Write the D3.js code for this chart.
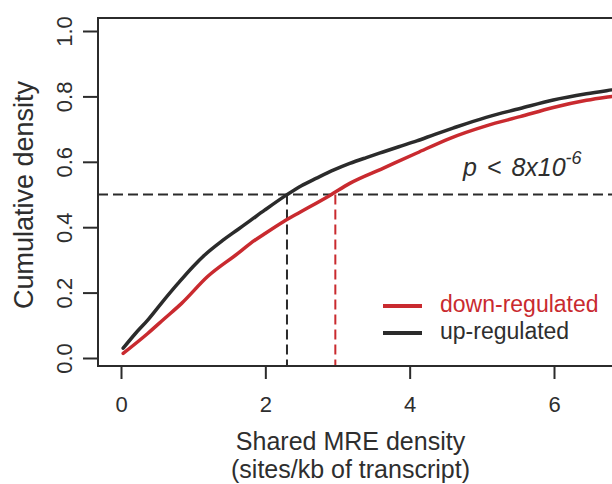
<!DOCTYPE html>
<html>
<head>
<meta charset="utf-8">
<script src="https://cdn.jsdelivr.net/npm/d3@7"></script>
<style>
  html, body { margin: 0; padding: 0; background: #fff; }
  svg { display: block; font-family: "Liberation Sans", Arial, Helvetica, sans-serif; }
</style>
</head>
<body>
<svg id="chart" width="612" height="484"></svg>
<script>
// ---- data ----
const upX   = [0.03, 0.2, 0.37, 0.55, 0.79, 1.0, 1.16, 1.4, 1.62, 1.79, 1.99, 2.29, 2.5, 2.71, 2.95, 3.17, 3.4, 3.63, 3.85, 4.1, 4.35, 4.6, 5.06, 5.53, 5.99, 6.45, 6.8, 7.2];
const upY   = [0.03, 0.075, 0.116, 0.165, 0.228, 0.28, 0.315, 0.358, 0.393, 0.42, 0.452, 0.498, 0.527, 0.55, 0.575, 0.595, 0.613, 0.63, 0.646, 0.664, 0.684, 0.703, 0.736, 0.763, 0.789, 0.808, 0.82, 0.833];
const downX = [0.03, 0.37, 0.6, 0.84, 1.2, 1.62, 1.79, 1.99, 2.25, 2.45, 2.9, 3.17, 3.63, 4.1, 4.56, 5.06, 5.53, 5.99, 6.45, 6.8, 7.2];
const downY = [0.014, 0.075, 0.12, 0.167, 0.249, 0.32, 0.35, 0.38, 0.417, 0.442, 0.498, 0.534, 0.58, 0.627, 0.672, 0.71, 0.738, 0.766, 0.788, 0.80, 0.812];
const medianUp = 2.3;
const medianDown = 2.97;
const refLevel = 0.5;
const xTicks = [0, 2, 4, 6];
const yTicks = [0, 0.2, 0.4, 0.6, 0.8, 1.0];
const seriesNames = ["down-regulated", "up-regulated"];
const pText = "p < 8x10";
const pExp = "-6";

// ---- layout ----
const svg = d3.select("#chart");
const RED = "#c92a2f", BLACK = "#2b2b2b", TXT = "#2e2e2e";
const frame = { left: 98, top: 18, bottom: 366, right: 720 };

const x = d3.scaleLinear().domain([0, 6]).range([121, 554]);
const y = d3.scaleLinear().domain([0, 1]).range([358, 31]);

svg.append("rect").attr("width", 612).attr("height", 484).attr("fill", "#fff");

svg.append("clipPath").attr("id", "clip")
  .append("rect").attr("x", frame.left).attr("y", frame.top)
  .attr("width", frame.right - frame.left).attr("height", frame.bottom - frame.top);

const plot = svg.append("g").attr("clip-path", "url(#clip)");

// reference dashed lines
plot.append("line")
  .attr("x1", frame.left).attr("x2", frame.right)
  .attr("y1", y(refLevel)).attr("y2", y(refLevel))
  .attr("stroke", BLACK).attr("stroke-width", 2).attr("stroke-dasharray", "10,5");
plot.append("line")
  .attr("x1", x(medianUp)).attr("x2", x(medianUp))
  .attr("y1", y(refLevel)).attr("y2", frame.bottom)
  .attr("stroke", BLACK).attr("stroke-width", 2).attr("stroke-dasharray", "10,5");
plot.append("line")
  .attr("x1", x(medianDown)).attr("x2", x(medianDown))
  .attr("y1", y(refLevel)).attr("y2", frame.bottom)
  .attr("stroke", RED).attr("stroke-width", 2).attr("stroke-dasharray", "10,5");

const line = d3.line().x(d => x(d[0])).y(d => y(d[1])).curve(d3.curveMonotoneX);
const downData = downX.map((v, i) => [v, downY[i]]);
const upData = upX.map((v, i) => [v, upY[i]]);

plot.append("path").datum(downData).attr("d", line)
  .attr("fill", "none").attr("stroke", RED).attr("stroke-width", 3.5)
  .attr("stroke-linejoin", "round").attr("stroke-linecap", "round");
plot.append("path").datum(upData).attr("d", line)
  .attr("fill", "none").attr("stroke", BLACK).attr("stroke-width", 3.5)
  .attr("stroke-linejoin", "round").attr("stroke-linecap", "round");

// frame
svg.append("rect")
  .attr("x", frame.left).attr("y", frame.top)
  .attr("width", frame.right - frame.left).attr("height", frame.bottom - frame.top)
  .attr("fill", "none").attr("stroke", BLACK).attr("stroke-width", 2);

// y axis
const yAxis = svg.append("g").attr("transform", `translate(${frame.left},0)`)
  .call(d3.axisLeft(y).tickValues(yTicks).tickSize(15).tickFormat(d3.format(".1f")));
yAxis.select(".domain").remove();
yAxis.selectAll(".tick line").attr("stroke", BLACK).attr("stroke-width", 2);
yAxis.selectAll(".tick text")
  .attr("x", null).attr("dy", null)
  .attr("transform", "translate(-26,0) rotate(-90)")
  .attr("text-anchor", "middle")
  .attr("fill", TXT).attr("font-size", 22).attr("font-family", "Liberation Sans, Arial, sans-serif");

// x axis
const xAxis = svg.append("g").attr("transform", `translate(0,${frame.bottom})`)
  .call(d3.axisBottom(x).tickValues(xTicks).tickSize(13).tickFormat(d3.format("d")));
xAxis.select(".domain").remove();
xAxis.selectAll(".tick line").attr("stroke", BLACK).attr("stroke-width", 2);
xAxis.selectAll(".tick text")
  .attr("y", 46).attr("dy", null)
  .attr("fill", TXT).attr("font-size", 22).attr("font-family", "Liberation Sans, Arial, sans-serif");

// axis titles
svg.append("text").attr("x", 350.5).attr("y", 450).attr("text-anchor", "middle")
  .attr("font-size", 25).attr("fill", TXT).text("Shared MRE density");
svg.append("text").attr("x", 350.5).attr("y", 478).attr("text-anchor", "middle")
  .attr("font-size", 25).attr("fill", TXT).text("(sites/kb of transcript)");
svg.append("text").attr("transform", "translate(33,195) rotate(-90)").attr("text-anchor", "middle")
  .attr("font-size", 27).attr("fill", TXT).text("Cumulative density");

// p-value annotation
const pt = svg.append("text").attr("x", 463).attr("y", 176)
  .attr("font-size", 25).attr("font-style", "italic").attr("word-spacing", 3).attr("fill", TXT);
pt.append("tspan").text(pText);
pt.append("tspan").attr("dy", -12).attr("font-size", 18).text(pExp);

// legend
const legColors = [RED, BLACK];
const legY = [306, 333];
seriesNames.forEach((name, i) => {
  svg.append("line").attr("x1", 383).attr("x2", 422).attr("y1", legY[i]).attr("y2", legY[i])
    .attr("stroke", legColors[i]).attr("stroke-width", 4);
  svg.append("text").attr("x", 440).attr("y", legY[i] + 6)
    .attr("font-size", 23).attr("fill", i === 0 ? RED : TXT).text(name);
});
</script>
</body>
</html>
